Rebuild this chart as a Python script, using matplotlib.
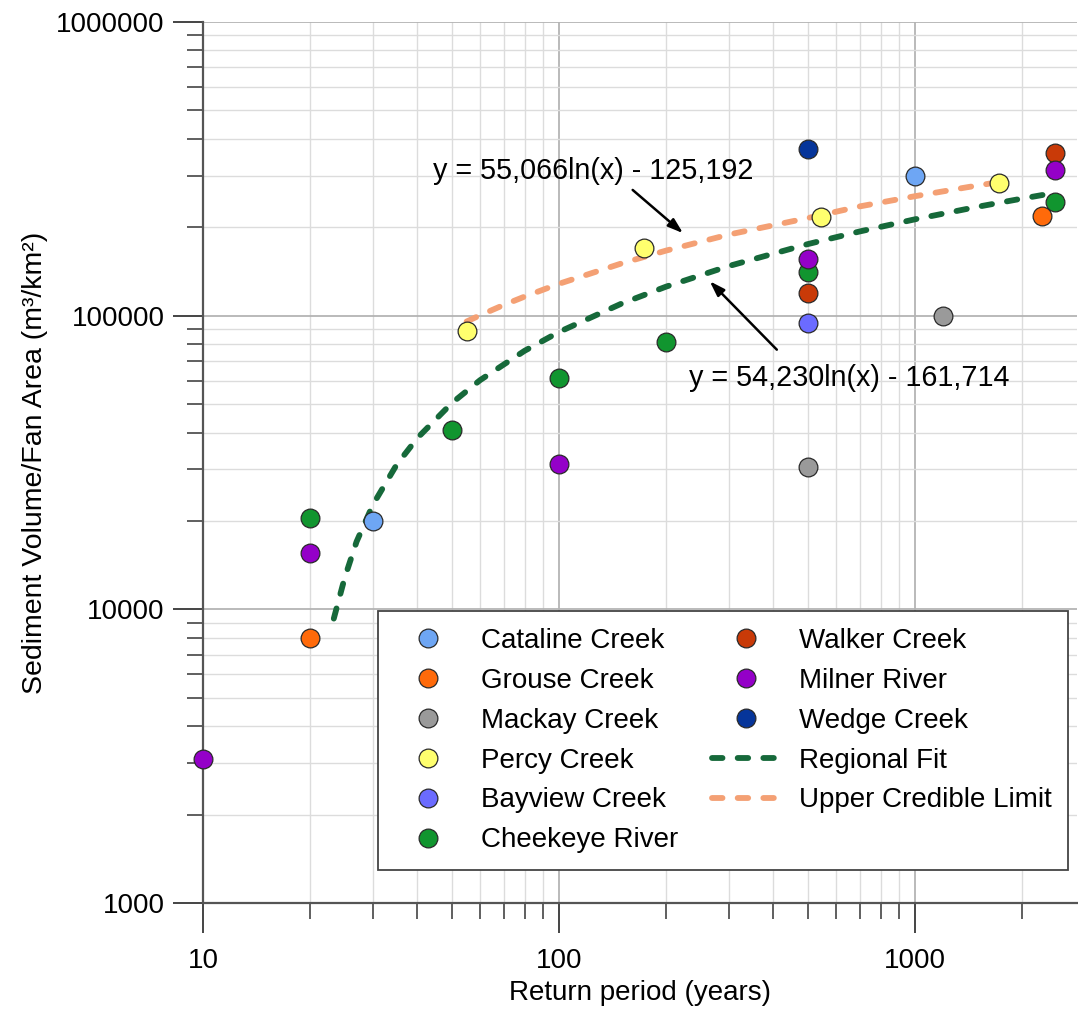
import matplotlib
matplotlib.use("Agg")
import matplotlib.pyplot as plt
from matplotlib.ticker import LogLocator, FixedLocator, NullFormatter, FixedFormatter

plt.rcParams['font.family'] = ['Liberation Sans', 'DejaVu Sans']

# ---- data ----
creeks = ["Cataline Creek", "Grouse Creek", "Mackay Creek", "Percy Creek",
          "Bayview Creek", "Cheekeye River", "Walker Creek", "Milner River",
          "Wedge Creek"]
colors = ["#6EA6F4", "#FF6A0A", "#9A9A9A", "#FFFF6E", "#6B6BFF",
          "#11952F", "#C93A08", "#9400C8", "#06359A"]

cataline_x = [30, 1000]
cataline_y = [20000, 300000]
grouse_x = [20, 2280]
grouse_y = [8000, 219000]
mackay_x = [500, 1200]
mackay_y = [30500, 100000]
percy_x = [55, 173, 545, 1720]
percy_y = [89000, 170000, 217000, 284000]
bayview_x = [500]
bayview_y = [94500]
cheekeye_x = [20, 50, 100, 200, 500, 2480]
cheekeye_y = [20400, 40800, 61500, 81500, 141000, 244000]
walker_x = [500, 2480]
walker_y = [119000, 357000]
milner_x = [10, 20, 100, 500, 2480]
milner_y = [3100, 15600, 31300, 156000, 313000]
wedge_x = [500]
wedge_y = [370000]

series_x = [cataline_x, grouse_x, mackay_x, percy_x, bayview_x,
            cheekeye_x, walker_x, milner_x, wedge_x]
series_y = [cataline_y, grouse_y, mackay_y, percy_y, bayview_y,
            cheekeye_y, walker_y, milner_y, wedge_y]

# curves
regional_x = [23.3, 25, 27, 30, 35, 40, 50, 60, 80, 100, 150, 200, 300,
              500, 700, 1000, 1500, 2000, 2400]
regional_y = [9300, 12800, 17000, 22700, 31100, 38300, 50400, 60300, 75900,
              88000, 110000, 125600, 147600, 175300, 193600, 212900, 234900,
              250500, 260400]
upper_x = [55, 60, 70, 80, 100, 150, 200, 300, 500, 700, 1000, 1400, 1750]
upper_y = [95500, 100300, 108800, 116100, 128400, 150700, 166600, 188900,
           215000, 235600, 255200, 273700, 286000]

eq_upper = "y = 55,066ln(x) - 125,192"
eq_regional = "y = 54,230ln(x) - 161,714"

x_ticks = [10, 100, 1000]
x_ticklabels = ["10", "100", "1000"]
y_ticks = [1000, 10000, 100000, 1000000]
y_ticklabels = ["1000", "10000", "100000", "1000000"]

# ---- figure ----
W, H = 1078, 1014
fig = plt.figure(figsize=(W / 100, H / 100), dpi=100)
ax = fig.add_axes([203 / W, 1 - 903 / H, (1077 - 203) / W, (903 - 22) / H])
ax.set_xscale('log')
ax.set_yscale('log')
ax.set_xlim(10, 2850)
ax.set_ylim(1000, 1000000)

ax.xaxis.set_major_locator(FixedLocator(x_ticks))
ax.xaxis.set_major_formatter(FixedFormatter(x_ticklabels))
ax.yaxis.set_major_locator(FixedLocator(y_ticks))
ax.yaxis.set_major_formatter(FixedFormatter(y_ticklabels))
ax.xaxis.set_minor_locator(LogLocator(base=10, subs=range(2, 10), numticks=20))
ax.yaxis.set_minor_locator(LogLocator(base=10, subs=range(2, 10), numticks=20))
ax.xaxis.set_minor_formatter(NullFormatter())
ax.yaxis.set_minor_formatter(NullFormatter())

ax.grid(which='major', color='#b4b4b4', linewidth=1.3)
ax.grid(which='minor', color='#dcdcdc', linewidth=1.0)
ax.set_axisbelow(True)

for s in ['top', 'right']:
    ax.spines[s].set_visible(False)
for s in ['left', 'bottom']:
    ax.spines[s].set_color('#555555')
    ax.spines[s].set_linewidth(1.6)

ax.tick_params(which='major', direction='out', length=21.5, width=1.4,
               color='#444444', labelsize=20, pad=6)
ax.tick_params(which='minor', direction='out', length=11.5, width=1.2,
               color='#444444')
ax.tick_params(axis='x', which='major', pad=11)

# curves
dash = (0, (1.8, 2.6))
reg_line, = ax.plot(regional_x, regional_y, linestyle=dash, color='#16693A',
                    linewidth=4.2, dash_capstyle='round', zorder=3,
                    label='Regional Fit')
up_line, = ax.plot(upper_x, upper_y, linestyle=dash, color='#F4A074',
                   linewidth=4.2, dash_capstyle='round', zorder=3,
                   label='Upper Credible Limit')

# points
handles = {}
for name, c, xs, ys in zip(creeks, colors, series_x, series_y):
    h, = ax.plot(xs, ys, linestyle='none', marker='o', markersize=13.5,
                 markerfacecolor=c, markeredgecolor='#2a2a2a',
                 markeredgewidth=0.9, zorder=5, clip_on=False, label=name)
    handles[name] = h

# annotations
ax.text(44.3, 310000, eq_upper, fontsize=20.7, ha='left', va='center')
ax.annotate('', xy=(223, 191000), xytext=(161, 268000),
            arrowprops=dict(arrowstyle='-|>,head_length=0.9,head_width=0.3',
                            color='black', lw=1.8, shrinkA=0, shrinkB=0))
ax.text(655, 61500, eq_regional, fontsize=20.7, ha='center', va='center')
ax.annotate('', xy=(265, 131000), xytext=(409, 76600),
            arrowprops=dict(arrowstyle='-|>,head_length=0.9,head_width=0.3',
                            color='black', lw=1.8, shrinkA=0, shrinkB=0))

ax.set_xlabel("Return period (years)", fontsize=20, labelpad=4)
ax.set_ylabel("Sediment Volume/Fan Area (m³/km²)", fontsize=20.5, labelpad=6)

# legend
leg_handles = [handles[n] for n in creeks[:6]] + \
              [handles[n] for n in creeks[6:]] + [reg_line, up_line]
leg = ax.legend(handles=leg_handles, loc='lower right', ncol=2,
                bbox_to_anchor=((1068 - 203) / 874, 33 / 881),
                fontsize=20, frameon=True, fancybox=False,
                edgecolor='#444444', framealpha=1,
                handlelength=2.4, handletextpad=0.7, columnspacing=1.25,
                labelspacing=0.5, borderpad=0.6, borderaxespad=0.0)
leg.get_frame().set_linewidth(1.3)
leg.set_zorder(10)

fig.savefig("out.png", dpi=100)
